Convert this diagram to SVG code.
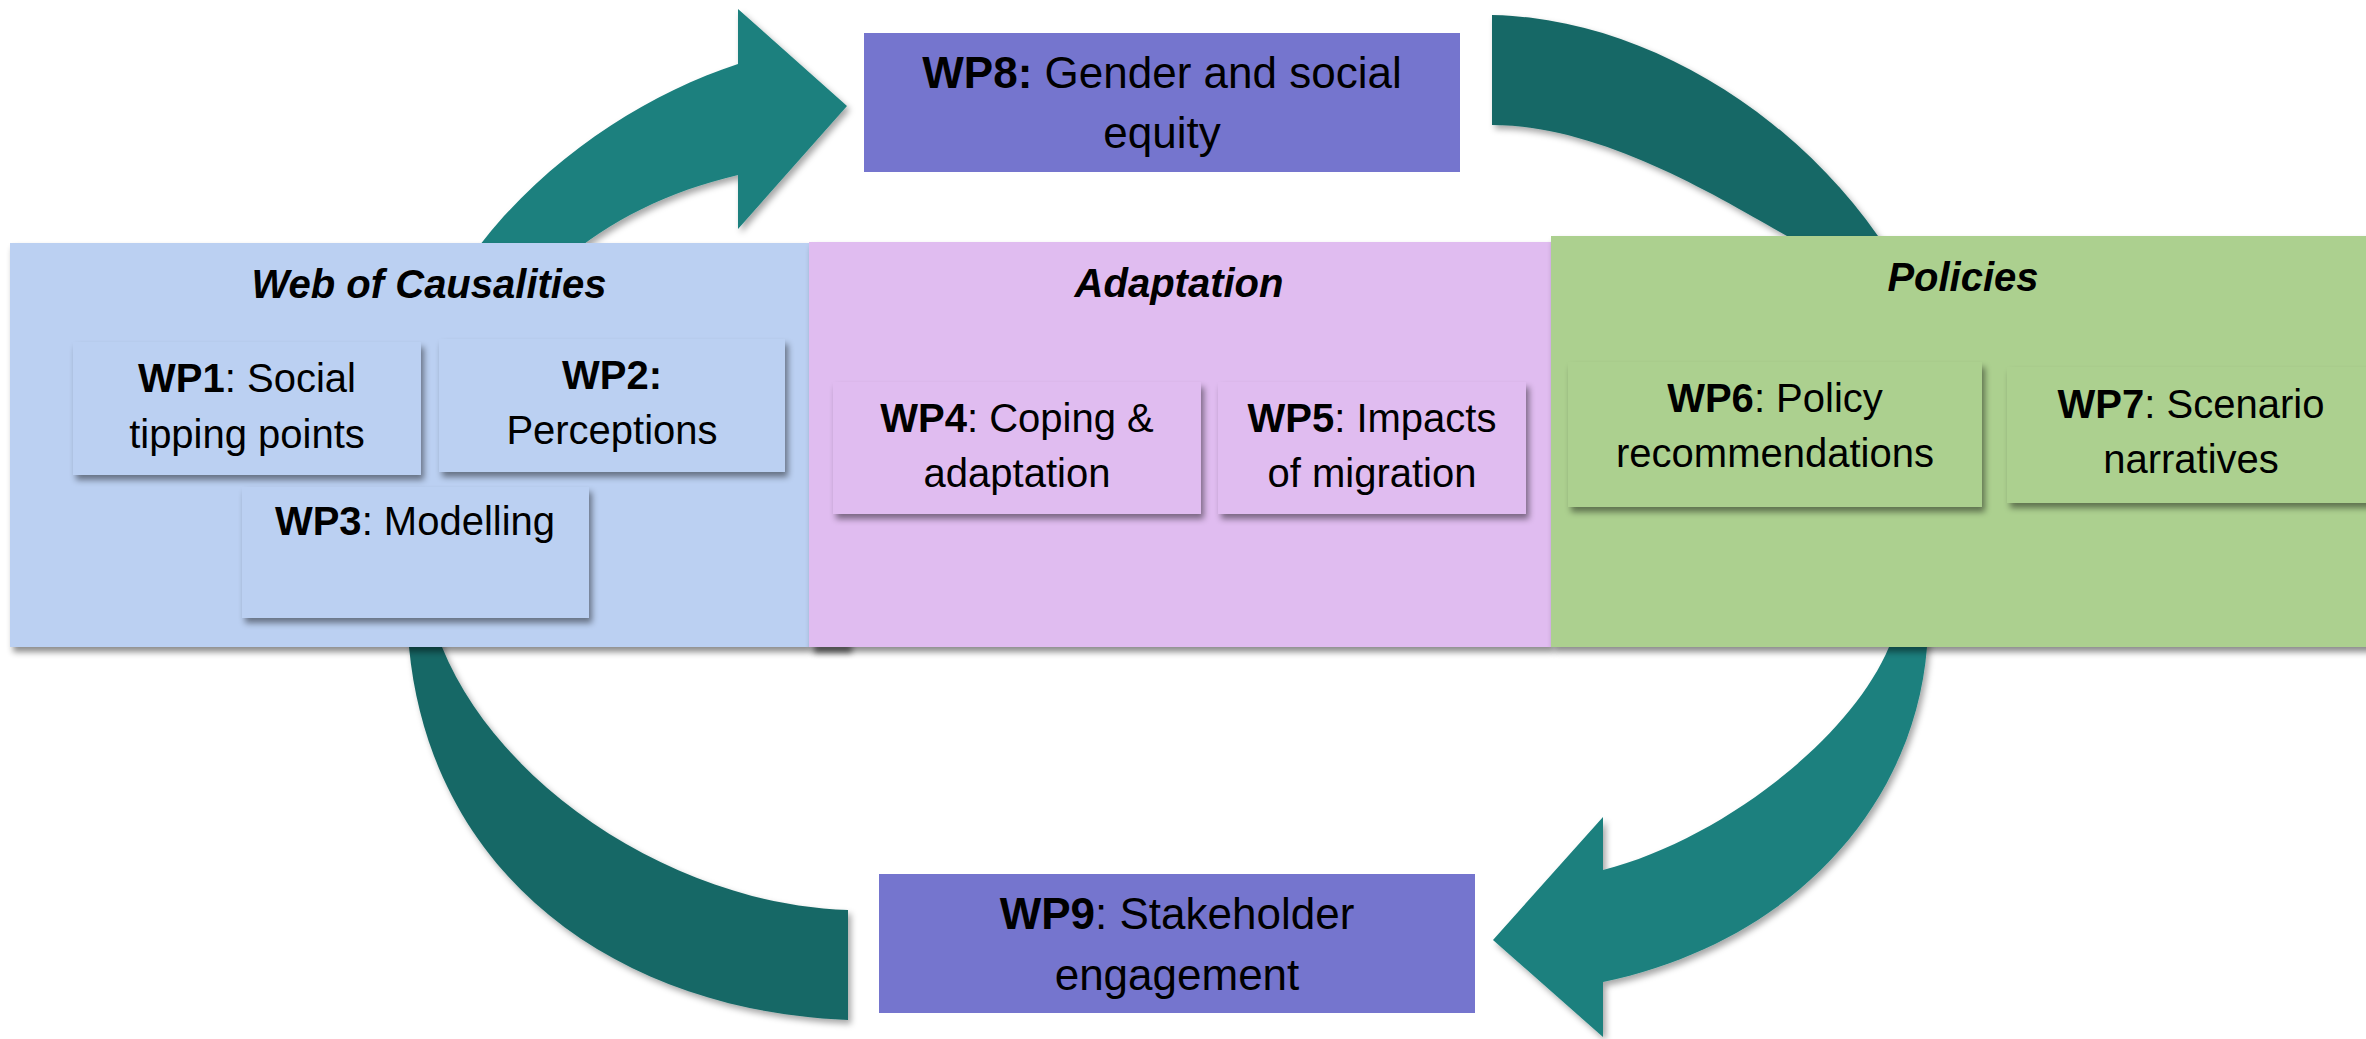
<svg xmlns="http://www.w3.org/2000/svg" width="2366" height="1039" viewBox="0 0 2366 1039">
  <defs>
    <filter id="shadow" x="-10%" y="-10%" width="130%" height="140%">
      <feDropShadow dx="3" dy="5" stdDeviation="3" flood-color="#000" flood-opacity="0.45"/>
    </filter>
    <filter id="arrowShadow" x="-10%" y="-10%" width="130%" height="130%">
      <feDropShadow dx="3" dy="4" stdDeviation="3" flood-color="#000" flood-opacity="0.35"/>
    </filter>
    <filter id="smudge" x="-50%" y="-100%" width="200%" height="300%">
      <feGaussianBlur stdDeviation="3"/>
    </filter>
  </defs>
  <style>
    .t { font-family: "Liberation Sans", Arial, sans-serif; font-size: 40px; fill: #000; text-anchor: middle; }
    .big { font-size: 44px; }
    .title { font-family: "Liberation Sans", Arial, sans-serif; font-size: 40px; font-weight: bold; font-style: italic; fill: #000; text-anchor: middle; }
    .b { font-weight: bold; }
    .blue { fill: #BBD0F2; }
    .pink { fill: #E0BCF0; }
    .green { fill: #ACD08F; }
    .purple { fill: #7575CE; }
    .light { fill: #1B807E; }
    .dark { fill: #176866; }
  </style>
  <rect width="2366" height="1039" fill="#fff"/>

  <!-- curved cycle arrows -->
  <g id="connectors" filter="url(#arrowShadow)">
    <!-- up from the left panel into WP8 -->
    <path class="light" d="M847,106 L738,9 L738,64 C640,96 530,168 462,270 L553,270 C600,225 665,192 738,175 L738,229 Z"/>
    <!-- out of WP8 down behind the policies panel -->
    <path class="dark" d="M1492,15 C1640,18 1790,110 1878,236 L1900,268 L1810,268 L1787,236 C1715,195 1600,125 1492,125 Z"/>
    <!-- from the policies panel down into WP9 -->
    <path class="light" d="M1493,940 L1603,817 L1603,870 C1720,840 1850,740 1889,647 L1902,615 L1930,615 L1927,647 C1915,800 1800,940 1603,982 L1603,1037 Z"/>
    <!-- out of WP9 back up behind the left panel -->
    <path class="dark" d="M848,1020 C610,1010 430,870 409,647 L405,615 L437,615 L442,647 C500,790 680,905 848,910 Z"/>
  </g>

  <!-- theme panels -->
  <g id="panel-causalities">
    <rect class="blue" x="10" y="243" width="799" height="404" filter="url(#shadow)"/>
    <text class="title" x="429" y="298">Web of Causalities</text>
  </g>
  <rect x="814" y="644" width="38" height="9" fill="#000" opacity="0.55" filter="url(#smudge)"/>
  <g id="panel-adaptation">
    <rect class="pink" x="809" y="242" width="742" height="405" filter="url(#shadow)"/>
    <text class="title" x="1179" y="297">Adaptation</text>
  </g>
  <g id="panel-policies">
    <rect class="green" x="1551" y="236" width="830" height="411" filter="url(#shadow)"/>
    <text class="title" x="1963" y="291">Policies</text>
  </g>

  <!-- work packages -->
  <g id="wp1">
    <rect class="blue" x="73" y="342" width="348" height="133" filter="url(#shadow)"/>
    <text class="t" x="247" y="392"><tspan class="b">WP1</tspan>: Social</text>
    <text class="t" x="247" y="448">tipping points</text>
  </g>
  <g id="wp2">
    <rect class="blue" x="439" y="339" width="346" height="133" filter="url(#shadow)"/>
    <text class="t" x="612" y="389"><tspan class="b">WP2:</tspan></text>
    <text class="t" x="612" y="444">Perceptions</text>
  </g>
  <g id="wp3">
    <rect class="blue" x="242" y="487" width="347" height="131" filter="url(#shadow)"/>
    <text class="t" x="415" y="535"><tspan class="b">WP3</tspan>: Modelling</text>
  </g>
  <g id="wp4">
    <rect class="pink" x="833" y="382" width="368" height="132" filter="url(#shadow)"/>
    <text class="t" x="1017" y="432"><tspan class="b">WP4</tspan>: Coping &amp;</text>
    <text class="t" x="1017" y="487">adaptation</text>
  </g>
  <g id="wp5">
    <rect class="pink" x="1218" y="382" width="308" height="132" filter="url(#shadow)"/>
    <text class="t" x="1372" y="432"><tspan class="b">WP5</tspan>: Impacts</text>
    <text class="t" x="1372" y="487">of migration</text>
  </g>
  <g id="wp6">
    <rect class="green" x="1568" y="362" width="414" height="145" filter="url(#shadow)"/>
    <text class="t" x="1775" y="412"><tspan class="b">WP6</tspan>: Policy</text>
    <text class="t" x="1775" y="467">recommendations</text>
  </g>
  <g id="wp7">
    <rect class="green" x="2007" y="367" width="380" height="136" filter="url(#shadow)"/>
    <text class="t" x="2191" y="418"><tspan class="b">WP7</tspan>: Scenario</text>
    <text class="t" x="2191" y="473">narratives</text>
  </g>
  <g id="wp8">
    <rect class="purple" x="864" y="33" width="596" height="139"/>
    <text class="t big" x="1162" y="88"><tspan class="b">WP8:</tspan> Gender and social</text>
    <text class="t big" x="1162" y="148">equity</text>
  </g>
  <g id="wp9">
    <rect class="purple" x="879" y="874" width="596" height="139"/>
    <text class="t big" x="1177" y="929"><tspan class="b">WP9</tspan>: Stakeholder</text>
    <text class="t big" x="1177" y="990">engagement</text>
  </g>
</svg>
